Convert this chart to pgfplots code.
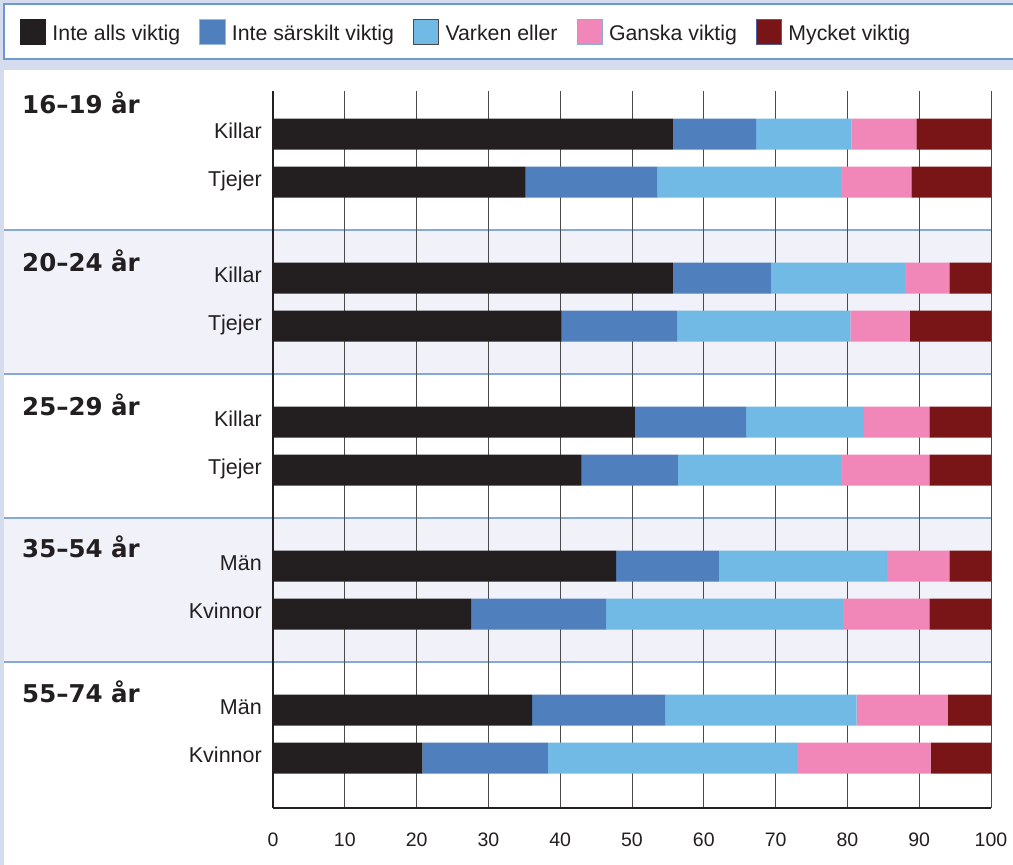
\documentclass[border=0pt]{standalone}
\usepackage{pgfplots}
\pgfplotsset{compat=1.18}
\usepackage{pgfplotstable}
\usepackage{fontspec}
\setmainfont{Liberation Sans}
\newfontfamily\grpfont{DejaVu Sans}

\definecolor{cBlack}{HTML}{231F20}
\definecolor{cBlue}{HTML}{4F80BD}
\definecolor{cLight}{HTML}{72BAE6}
\definecolor{cPink}{HTML}{F187B8}
\definecolor{cRed}{HTML}{7A1517}
\definecolor{bgLav}{HTML}{D4DCEE}
\definecolor{band}{HTML}{F0F1F9}
\definecolor{sepLine}{HTML}{86A8D8}
\definecolor{legBorder}{HTML}{6F97D0}
\definecolor{txt}{HTML}{231F20}
\definecolor{gridc}{HTML}{4A4A4A}
\definecolor{bLight}{HTML}{4A4A4A}
\definecolor{bBlue}{HTML}{9AB5DE}
\definecolor{bPink}{HTML}{8FAADC}
\definecolor{bRed}{HTML}{4F5E9E}

\pgfplotstableread{
y a b c d e
0 55.7 11.6 13.3 9.0 10.4
1 35.2 18.3 25.6 9.8 11.1
3 55.7 13.7 18.6 6.2 5.8
4 40.2 16.1 24.1 8.3 11.3
6 50.4 15.5 16.4 9.1 8.6
7 43.0 13.4 22.7 12.3 8.6
9 47.8 14.3 23.4 8.7 5.8
10 27.6 18.8 33.0 12.0 8.6
12 36.1 18.5 26.7 12.7 6.0
13 20.8 17.5 34.7 18.6 8.4
}\datatable

\pgfplotsset{sq/.style n args={2}{legend image code/.code={%
  \fill[fill=#1,draw=none] (0pt,-4.3pt) rectangle (26pt,21.7pt);
  \draw[draw=#2, fill=none, line width=0.8pt] (0.4pt,-3.9pt) rectangle (25.6pt,21.3pt);}}}

\begin{document}
\begin{tikzpicture}[x=1pt,y=1pt]
\path[use as bounding box] (0,0) rectangle (1013,-865);
\clip (0,0) rectangle (1013,-865);
\fill[bgLav] (0,0) rectangle (1013,-865);
\filldraw[fill=white, draw=legBorder, line width=1.2pt] (4,-4) rectangle (1030,-59);
\fill[white] (4,-70) rectangle (1030,-870);
\fill[band] (4,-230) rectangle (991,-374);
\fill[band] (4,-518) rectangle (991,-662);
\foreach \yy in {230,374,518,662} \draw[sepLine, line width=1.3pt] (4,-\yy) -- (991,-\yy);

\begin{axis}[
  at={(273pt,-808pt)}, anchor=south west,
  scale only axis, width=718pt, height=717pt,
  xmin=0, xmax=100, ymin=-0.9, ymax=14.04, y dir=reverse,
  xbar stacked, bar width=0.646,
  xtick={0,10,...,100},
  ytick={0,1,3,4,6,7,9,10,12,13},
  yticklabels={Killar,Tjejer,Killar,Tjejer,Killar,Tjejer,Män,Kvinnor,Män,Kvinnor},
  xmajorgrids, major grid style={color=gridc, line width=0.9pt},
  axis x line*=bottom, axis y line*=left,
  x axis line style={-, line width=2pt, color=txt},
  y axis line style={-, line width=2.4pt, color=txt},
  major tick length=0pt,
  /pgf/number format/assume math mode=true,
  xticklabel style={font=\fontsize{19.5}{22}\selectfont, text=txt, inner sep=0pt, anchor=north, yshift=-25pt},
  yticklabel style={font=\fontsize{21.5}{24}\selectfont, text=txt, inner sep=0pt, anchor=base east, xshift=-11pt, yshift=-4pt},
  legend columns=5,
  legend style={at={(axis description cs:-0.35237,1.0823)}, anchor=west, draw=none, fill=none, inner sep=0pt, outer sep=0pt,
    font=\fontsize{21.3}{24}\selectfont, text=txt,
    nodes={inner sep=0pt},
    cells={anchor=base west},
    /tikz/every odd column/.append style={column sep=6.5pt},
    /tikz/every even column/.append style={column sep=19pt}},
]
\addplot[fill=cBlack, draw=none, sq={cBlack}{cBlack}] table[x=a, y=y] {\datatable};
\addplot[fill=cBlue, draw=none, sq={cBlue}{bBlue}] table[x=b, y=y] {\datatable};
\addplot[fill=cLight, draw=none, sq={cLight}{bLight}] table[x=c, y=y] {\datatable};
\addplot[fill=cPink, draw=none, sq={cPink}{bPink}] table[x=d, y=y] {\datatable};
\addplot[fill=cRed, draw=none, sq={cRed}{bRed}] table[x=e, y=y] {\datatable};
\legend{{Inte alls viktig\hspace{5pt}}, Inte särskilt viktig, Varken eller, Ganska viktig, Mycket viktig}
\end{axis}

\begin{scope}[every node/.style={anchor=base west, inner sep=0pt, text=txt, font=\fontsize{24.5}{28}\grpfont\bfseries}]
\node at (22,-113) {16–19 år};
\node at (22,-271) {20–24 år};
\node at (22,-415) {25–29 år};
\node at (22,-557) {35–54 år};
\node at (22,-702) {55–74 år};
\end{scope}
\end{tikzpicture}
\end{document}
